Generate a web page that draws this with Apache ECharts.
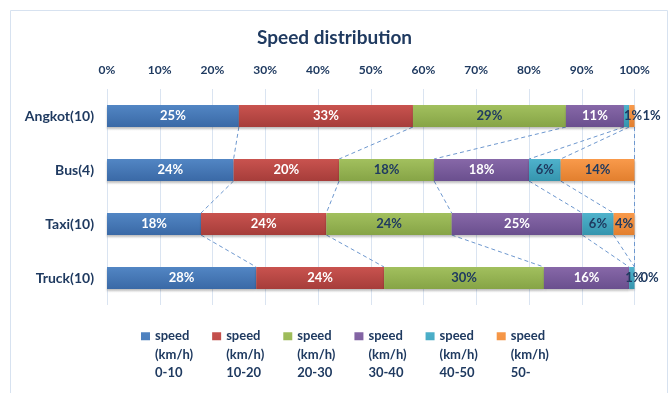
<!DOCTYPE html>
<html>
<head>
<meta charset="utf-8">
<script src="https://cdn.jsdelivr.net/npm/echarts@6/dist/echarts.min.js"></script>
<style>
  html, body { margin: 0; padding: 0; background: #fff; }
  #chart { width: 669px; height: 393px; }
</style>
</head>
<body>
<div id="chart"></div>
<script>
// Vehicle types (number of vehicles observed)
const categories = ['Angkot(10)', 'Bus(4)', 'Taxi(10)', 'Truck(10)'];

// Share of observations per speed class, in percent, one array per class
const speed0to10  = [25, 24, 18, 28];
const speed10to20 = [33, 20, 24, 24];
const speed20to30 = [29, 18, 24, 30];
const speed30to40 = [11, 18, 25, 16];
const speed40to50 = [1, 6, 6, 1];
const speed50up   = [1, 14, 4, 0];

const seriesNames = [
  'speed\n(km/h)\n0-10',
  'speed\n(km/h)\n10-20',
  'speed\n(km/h)\n20-30',
  'speed\n(km/h)\n30-40',
  'speed\n(km/h)\n40-50',
  'speed\n(km/h)\n50-'
];

const xTicks = [0, 10, 20, 30, 40, 50, 60, 70, 80, 90, 100];

const classes = [speed0to10, speed10to20, speed20to30, speed30to40, speed40to50, speed50up];

const palette = [
  ['#5286C4', '#3A69A6'],
  ['#C9534F', '#A63D3A'],
  ['#A2C05E', '#86A446'],
  ['#8768A8', '#6A4F8E'],
  ['#4FB2CC', '#3595AE'],
  ['#F99A4B', '#E27F2E']
];
const labelColors = ['#FFFFFF', '#FFFFFF', '#1F3A60', '#FFFFFF', '#1F3A60', '#1F3A60'];
const navy = '#1F3A60';
const FONT = 'Lato';

// 100% stacking: each row is scaled by its own total
const rowTotals = categories.map((_, r) => classes.reduce((s, arr) => s + arr[r], 0));
const shares = classes.map(arr => arr.map((v, r) => v / rowTotals[r] * 100));

// tiny segments at the end of a bar carry their label outside
function labelFor(ci, r) {
  const v = classes[ci][r];
  const last = r === categories.length - 1;
  if (ci === 4 && v <= 1) return { position: 'insideLeft', distance: 0, offset: [last ? -4 : 0, 0] };
  if (ci === 5 && v <= 1) return { position: 'right', distance: last ? 6 : 8 };
  return undefined;
}

const barSeries = classes.map((arr, ci) => ({
  name: seriesNames[ci],
  type: 'bar',
  stack: 'total',
  barWidth: 22,
  z: 3,
  itemStyle: {
    color: {
      type: 'linear', x: 0, y: 0, x2: 0, y2: 1,
      colorStops: [{ offset: 0, color: palette[ci][0] }, { offset: 1, color: palette[ci][1] }]
    },
    shadowColor: 'rgba(0,0,0,0.25)',
    shadowBlur: 2,
    shadowOffsetY: 1.5
  },
  label: {
    show: true,
    position: 'inside',
    color: labelColors[ci],
    fontFamily: FONT,
    fontWeight: 'bold',
    fontSize: 13,
    formatter: p => p.data.raw + '%'
  },
  data: shares[ci].map((s, r) => {
    const item = { value: s, raw: arr[r] };
    const lb = labelFor(ci, r);
    if (lb) item.label = Object.assign({ color: navy }, lb);
    return item;
  })
}));

// series lines: join the right edge of each cumulative class between neighbouring bars
const connectors = [];
for (let ci = 0; ci < classes.length; ci++) {
  for (let r = 0; r < categories.length - 1; r++) {
    let a = 0, b = 0;
    for (let k = 0; k <= ci; k++) { a += shares[k][r]; b += shares[k][r + 1]; }
    connectors.push([a, r, b, r + 1]);
  }
}

const connectorSeries = {
  type: 'custom',
  z: 1,
  silent: true,
  encode: { x: [0, 2], y: [1, 3] },
  renderItem: function (params, api) {
    const half = 11;
    const p1 = api.coord([api.value(0), api.value(1)]);
    const p2 = api.coord([api.value(2), api.value(3)]);
    return {
      type: 'line',
      shape: { x1: p1[0], y1: p1[1] + half, x2: p2[0], y2: p2[1] - half },
      style: { stroke: '#6E98CF', lineWidth: 1, lineDash: [4, 3] }
    };
  },
  data: connectors
};

// legend marker: a small square at the top of a tall, otherwise empty box,
// so the swatch lines up with the first line of the three-line name
const legendIcon = 'path://M0,0L0,0Z M0,5L9,5L9,13L0,13Z M0,55L0,55Z';

const chart = echarts.init(document.getElementById('chart'), null, { renderer: 'canvas' });
chart.setOption({
  animation: false,
  backgroundColor: '#fff',
  textStyle: { fontFamily: FONT },
  graphic: [{
    type: 'rect',
    shape: { x: 10.5, y: 10.5, width: 657, height: 395 },
    style: { fill: 'none', stroke: '#D7E2F0', lineWidth: 1 },
    silent: true,
    z: -10
  }],
  title: {
    text: 'Speed distribution',
    left: 'center',
    top: 23,
    textStyle: { fontFamily: FONT, fontWeight: 'bold', fontSize: 19, color: navy }
  },
  grid: { left: 107, right: 34.5, top: 89, height: 216 },
  xAxis: {
    type: 'value',
    position: 'top',
    min: xTicks[0],
    max: xTicks[xTicks.length - 1],
    interval: xTicks[1] - xTicks[0],
    axisLine: { show: false },
    axisTick: { show: false },
    axisLabel: { formatter: '{value}%', color: navy, fontFamily: FONT, fontWeight: 'bold', fontSize: 12, margin: 13 },
    splitLine: { show: true, lineStyle: { color: '#DAE4F1', width: 1 } }
  },
  yAxis: {
    type: 'category',
    inverse: true,
    data: categories,
    axisLine: { show: false },
    axisTick: { show: false },
    axisLabel: { color: navy, fontFamily: FONT, fontWeight: 'bold', fontSize: 14, margin: 13 }
  },
  legend: {
    left: 136,
    top: 322,
    icon: legendIcon,
    itemWidth: 9,
    itemHeight: 55,
    itemGap: 19,
    selectedMode: false,
    data: seriesNames,
    textStyle: {
      color: navy, fontFamily: FONT, fontWeight: 'bold', fontSize: 13,
      lineHeight: 18.5
    }
  },
  series: [connectorSeries].concat(barSeries)
});
</script>
</body>
</html>
